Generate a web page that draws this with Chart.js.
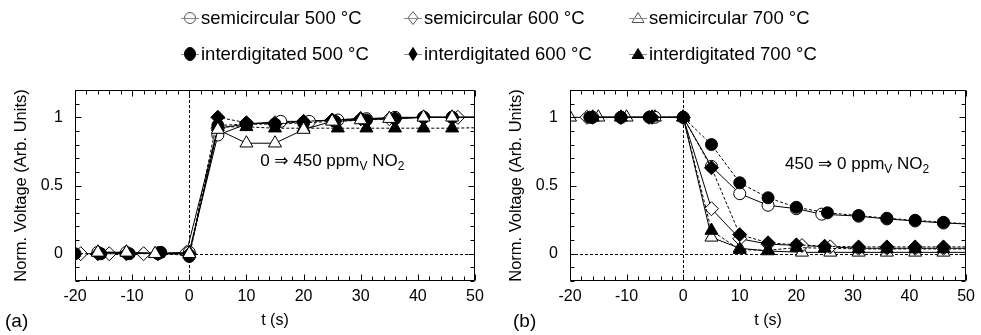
<!DOCTYPE html>
<html><head><meta charset="utf-8">
<script src="https://cdn.jsdelivr.net/npm/chart.js@4.4.1/dist/chart.umd.min.js"></script>
<style>
html,body{margin:0;padding:0;background:#fff}
#root{position:relative;width:981px;height:335px;overflow:hidden;font-family:"Liberation Sans",Arial,sans-serif;color:#000}
canvas{position:absolute;top:0}
#ca{left:0}
#cb{left:490px}
.lt{position:absolute;font-size:18.5px;line-height:20px;white-space:nowrap}
.lm{position:absolute;overflow:visible}
</style></head><body><div id="root">
<canvas id="ca" width="490" height="335"></canvas>
<canvas id="cb" width="491" height="335"></canvas>
<div id="legend"></div>
</div>
<script>
// ---------- data ----------
const seriesNames = ['semicircular 500 °C','semicircular 600 °C','semicircular 700 °C',
                     'interdigitated 500 °C','interdigitated 600 °C','interdigitated 700 °C'];
const xTicks = [-20,-10,0,10,20,30,40,50];
const yTicks = [0,0.5,1];

// panel (a): 0 -> 450 ppmV NO2
const aS500x = [-16,-11,-5.5,0,5,10,16,21,26,31,36,41,46,52];
const aS500y = [0.01,0.01,0.0,0.01,0.87,0.95,0.97,0.97,0.98,0.99,1.0,1.0,1.0,1.0];
const aS600x = [-19,-14,-8,-0.5,5,10,15,20,25,30,35,41,47,52];
const aS600y = [0,0,0,0.01,0.92,0.95,0.96,0.97,0.98,0.99,0.99,1.0,1.0,1.0];
const aS700x = [-16,-11,-6,0,5,10,15,20,25,30,35,41,46,52];
const aS700y = [0.01,0.01,0,0,0.91,0.81,0.81,0.91,0.97,0.98,0.99,1.0,1.0,1.0];
const aI500x = [-20,-15.5,-10.5,-5,0,5,10,15,20,25.5,31,36,41,46,52];
const aI500y = [0,0,0,0.01,-0.02,0.94,0.95,0.95,0.96,0.97,0.98,0.99,1.0,1.0,1.0];
const aI600x = [-16,-11,-5.5,0,5,10,15,20,25,30,36,41,46,52];
const aI600y = [0,0,0,0,1.0,0.96,0.95,0.97,0.98,0.99,0.99,1.0,1.0,1.0];
const aI700x = [-16,-11,-5.5,0,5,10,15,20,26,31,36,41,46,52];
const aI700y = [0.01,0.01,0,0,0.93,0.93,0.92,0.92,0.92,0.92,0.92,0.92,0.92,0.925];

// panel (b): 450 -> 0 ppmV NO2
const bS500x = [-16,-11,-5,0,5,10,15,20,24.5,31,36,41,46,52];
const bS500y = [1,1,1,1,0.64,0.44,0.355,0.33,0.29,0.275,0.255,0.24,0.225,0.215];
const bS600x = [-17,-11,-6,0,5,10,15,21,26,31,36,41,46,52];
const bS600y = [1,1,1,1,0.33,0.11,0.07,0.06,0.05,0.04,0.04,0.04,0.04,0.04];
const bS700x = [-20,-15,-10,-5,0,5,10,15,21,26,31,36,41,46,52];
const bS700y = [1,1,1,1,1,0.12,0.04,0.02,0.01,0.01,0.01,0.01,0.01,0.01,0.01];
const bI500x = [-16.5,-11,-6,0,5,10,15,20,25.5,31,36,41,46,52];
const bI500y = [1,1,1,1,0.80,0.52,0.41,0.34,0.30,0.28,0.26,0.245,0.23,0.215];
const bI600x = [-16,-11,-5.5,0,5,10,15,20,25,31,36,41,46,52];
const bI600y = [1,1,1,1,0.63,0.14,0.08,0.065,0.055,0.05,0.05,0.05,0.05,0.05];
const bI700x = [-16,-11,-5.5,0,5,10,15,20,25,31,36,41,46,52];
const bI700y = [1,1,1,1,0.17,0.03,0.025,0.045,0.04,0.035,0.035,0.035,0.035,0.035];

// ---------- styles ----------
const FONT = "'Liberation Sans', Arial, 'DejaVu Sans', sans-serif";
const shapes = ['circle','rectRot','triangle','circle','rectRot','triangle'];
const fills  = ['#fff','#fff','#fff','#000','#000','#000'];
const dashes = [[],[],[],[3,2],[3,2],[3,2]];
const radii  = {circle:6, rectRot:7, triangle:7.5};
const orderA = [4,5,0,3,2,1];
const orderB = [3,4,5,0,1,2];

function mk(xs, ys){ return xs.map((x,i)=>({x:x, y:ys[i]})); }

function buildSets(list, order){
  return list.map((d,i)=>({
    label: seriesNames[i],
    data: mk(d[0], d[1]),
    showLine: true,
    borderColor: '#000',
    borderWidth: 1,
    borderDash: dashes[i],
    tension: 0,
    pointStyle: shapes[i],
    pointBackgroundColor: fills[i],
    pointBorderColor: '#000',
    pointBorderWidth: 1,
    pointRadius: (c)=> (c.raw && c.raw.x > 50) ? 0 : radii[shapes[i]],
    pointHoverRadius: (c)=> (c.raw && c.raw.x > 50) ? 0 : radii[shapes[i]],
    order: order[i]
  }));
}

const framePlugin = {
  id: 'frame',
  beforeDatasetsDraw(chart){
    const {ctx, chartArea:a, scales:{x, y}} = chart;
    ctx.save();
    ctx.strokeStyle = '#000'; ctx.lineWidth = 1; ctx.setLineDash([3,2]);
    const px = Math.round(x.getPixelForValue(0)) + 0.5;
    const py = Math.round(y.getPixelForValue(0)) + 0.5;
    ctx.beginPath();
    ctx.moveTo(px, a.top); ctx.lineTo(px, a.bottom);
    ctx.moveTo(a.left, py); ctx.lineTo(a.right, py);
    ctx.stroke();
    ctx.restore();
  },
  afterDatasetsDraw(chart, args, opts){
    const {ctx, chartArea:a, scales:{x, y}} = chart;
    ctx.save();
    ctx.strokeStyle = '#000'; ctx.lineWidth = 1; ctx.setLineDash([]);
    const L = Math.round(a.left)+0.5, R = Math.round(a.right)-0.5, T = Math.round(a.top)+0.5, B = Math.round(a.bottom)-0.5;
    ctx.beginPath();
    ctx.rect(L, T, R-L, B-T);
    for (let k=-20; k<=50; k+=2){
      const p = Math.round(x.getPixelForValue(k)) + 0.5;
      const len = (k % 10 === 0) ? 6 : 4;
      ctx.moveTo(p, B); ctx.lineTo(p, B-len);
      ctx.moveTo(p, T); ctx.lineTo(p, T+len);
    }
    for (let k=-2; k<=12; k++){
      const p = Math.round(y.getPixelForValue(k/10)) + 0.5;
      const len = (k % 5 === 0) ? 6 : 4;
      ctx.moveTo(L, p); ctx.lineTo(L+len, p);
      ctx.moveTo(R, p); ctx.lineTo(R-len, p);
    }
    ctx.stroke();
    // annotation with subscripts
    const an = opts.annot;
    let cx = x.getPixelForValue(an.x);
    const by = y.getPixelForValue(an.y);
    ctx.fillStyle = '#000';
    ctx.textBaseline = 'alphabetic'; ctx.textAlign = 'left';
    an.parts.forEach(p=>{
      const sz = p.sub ? 12 : 17;
      ctx.font = sz + 'px ' + FONT;
      ctx.fillText(p.t, cx, by + (p.sub ? 4 : 0));
      cx += ctx.measureText(p.t).width;
    });
    // panel label
    ctx.font = '19px ' + FONT;
    ctx.fillText(opts.label, opts.labelX, 327);
    ctx.restore();
  }
};

function makeChart(id, sets, leftW, rightPad, titlePad, label, labelX, annot){
  return new Chart(document.getElementById(id), {
    type: 'scatter',
    data: { datasets: sets },
    plugins: [framePlugin],
    options: {
      responsive: false, animation: false, events: [],
      layout: { padding: { top: 90, right: rightPad, left: 0, bottom: 0 } },
      plugins: { legend: {display:false}, tooltip: {enabled:false},
                 frame: { label: label, labelX: labelX, annot: annot } },
      scales: {
        x: {
          type: 'linear', min: -20, max: 50,
          grid: { display: false, drawTicks: false },
          border: { display: false },
          afterBuildTicks: (s)=>{ s.ticks = xTicks.map(v=>({value:v})); },
          afterFit: (s)=>{ s.height = 54; },
          ticks: { autoSkip: false, maxRotation: 0, padding: 6, color: '#000',
                   font: { size: 16, family: FONT }, callback: (v)=> String(v) },
          title: { display: true, text: 't (s)', color: '#000',
                   font: { size: 16, family: FONT }, padding: { top: 0, bottom: 5 } }
        },
        y: {
          type: 'linear', min: -0.2, max: 1.2,
          grid: { display: false, drawTicks: false },
          border: { display: false },
          afterBuildTicks: (s)=>{ s.ticks = yTicks.map(v=>({value:v})); },
          afterFit: (s)=>{ s.width = leftW; },
          ticks: { padding: 12, color: '#000', font: { size: 16, family: FONT },
                   callback: (v)=> String(v) },
          title: { display: true, text: 'Norm. Voltage (Arb. Units)', color: '#000',
                   font: { size: 16.5, family: FONT }, padding: { top: titlePad, bottom: 0 } }
        }
      }
    }
  });
}

const setsA = buildSets([[aS500x,aS500y],[aS600x,aS600y],[aS700x,aS700y],[aI500x,aI500y],[aI600x,aI600y],[aI700x,aI700y]], orderA);
const setsB = buildSets([[bS500x,bS500y],[bS600x,bS600y],[bS700x,bS700y],[bI500x,bI500y],[bI600x,bI600y],[bI700x,bI700y]], orderB);

makeChart('ca', setsA, 75, 15, 12, '(a)', 5,
  {x: 12.4, y: 0.64, parts: [{t:'0 \u21D2 450 ppm'},{t:'V',sub:true},{t:' NO'},{t:'2',sub:true}]});
makeChart('cb', setsB, 80, 11, 17, '(b)', 23,
  {x: 18.0, y: 0.62, parts: [{t:'450 \u21D2 0 ppm'},{t:'V',sub:true},{t:' NO'},{t:'2',sub:true}]});

// ---------- legend (HTML) ----------
const legCols = [190, 413, 638];
const legRows = [18, 54];
const legEl = document.getElementById('legend');
function markerSvg(shape, filled){
  const st = filled ? 'fill="#000" stroke="#000"' : 'fill="#fff" stroke="#555"';
  let m = '';
  if (shape === 'circle') m = filled ? '<ellipse cx="10" cy="10" rx="5.5" ry="6.5" '+st+'/>' : '<circle cx="10" cy="10" r="5.5" '+st+'/>';
  if (shape === 'rectRot') m = filled ? '<path d="M10 3.5 L14 10 L10 16.5 L6 10 Z" '+st+'/>' : '<path d="M10 3.5 L15 10 L10 16.5 L5 10 Z" '+st+'/>';
  if (shape === 'triangle') m = '<path d="M10 4.5 L16 14.5 L4 14.5 Z" '+st+'/>';
  const line = '<line x1="1" y1="10.5" x2="19" y2="10.5" stroke="#888" stroke-width="1"/>';
  return '<svg class="lm" width="20" height="20" viewBox="0 0 20 20">' + (filled ? line + m : m + line) + '</svg>';
}
seriesNames.forEach((name, i)=>{
  const col = i % 3, row = Math.floor(i / 3);
  const cx = legCols[col], cy = legRows[row];
  const w = document.createElement('div');
  w.innerHTML = markerSvg(shapes[i], fills[i] === '#000');
  const svg = w.firstChild;
  svg.style.left = (cx - 10) + 'px'; svg.style.top = (cy - 10) + 'px';
  legEl.appendChild(svg);
  const t = document.createElement('div');
  t.className = 'lt'; t.textContent = name;
  t.style.left = (cx + 11) + 'px'; t.style.top = (cy - 10) + 'px';
  legEl.appendChild(t);
});
</script></body></html>
